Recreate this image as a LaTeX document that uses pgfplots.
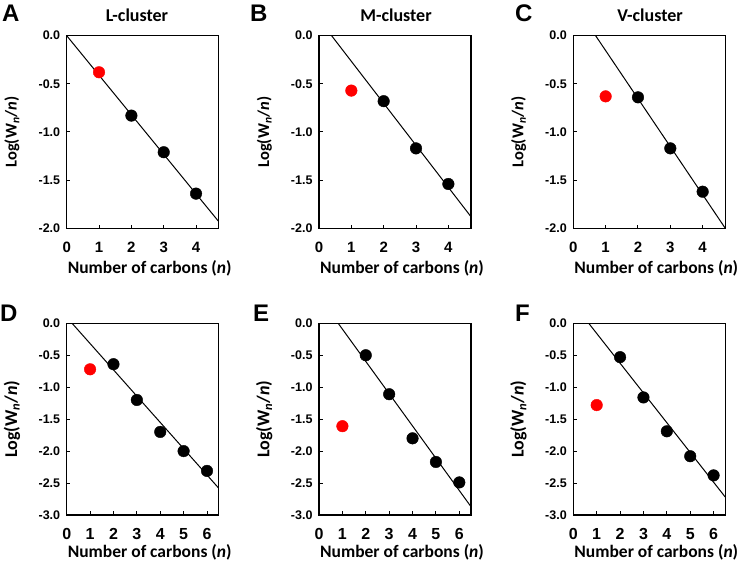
\documentclass[border=0pt]{standalone}
\usepackage{fontspec}
\setmainfont{Carlito}
\newfontfamily\arialb{Liberation Sans}[BoldFont={Liberation Sans Bold}]
\usepackage{pgfplots}
\pgfplotsset{compat=1.18}
\definecolor{dotred}{RGB}{255,0,0}
\pgfplotsset{
  panel/.style={
    scale only axis, anchor=south west,
    width=152pt,
    xmin=0, ymax=0,
    axis line style={line width=1.3pt},
    tick align=inside, major tick length=3.5pt,
    tick style={line width=1pt, black},
    xtick pos=bottom, ytick pos=left,
    /pgf/number format/assume math mode=true,
    yticklabel style={/pgf/number format/fixed, /pgf/number format/fixed zerofill, /pgf/number format/precision=1,
      font=\arialb\bfseries\fontsize{12.5}{12.5}\selectfont, anchor=east, xshift=-3pt},
    xlabel={Number of carbons (\textit{n})},
    ylabel={Log(W\textsubscript{\textit{n}}/\textit{n})},
    clip=true,
  },
  top/.style={panel, height=192.6pt, xmax=4.7, ymin=-2, xtick={0,1,2,3,4}, ytick={0,-0.5,-1,-1.5,-2},
    xticklabel style={font=\arialb\bfseries\fontsize{15}{15}\selectfont, anchor=base, yshift=-24.5pt},
    xlabel style={at={(axis description cs:0.5,0)}, anchor=base, yshift=-45pt, xshift=7pt, font=\bfseries\fontsize{17.5}{17.5}\selectfont},
    ylabel style={at={(axis description cs:-0.36,0.5)}, anchor=center, font=\bfseries\fontsize{16.5}{16.5}\selectfont},
  },
  bot/.style={panel, height=191.7pt, xmax=6.5, ymin=-3, xtick={0,1,2,3,4,5,6}, ytick={0,-0.5,-1,-1.5,-2,-2.5,-3},
    xticklabel style={font=\arialb\bfseries\fontsize{16}{16}\selectfont, anchor=base, yshift=-25pt},
    xlabel style={at={(axis description cs:0.5,0)}, anchor=base, yshift=-43pt, xshift=7pt, font=\bfseries\fontsize{17.5}{17.5}\selectfont},
    ylabel style={at={(axis description cs:-0.36,0.5)}, anchor=center, font=\bfseries\fontsize{18}{18}\selectfont},
  },
  fitline/.style={black, line width=1pt, no markers},
  blk/.style={only marks, mark=*, mark size=5.8pt, mark options={fill=black, draw=black}},
  red/.style={only marks, mark=*, mark size=5.8pt, mark options={fill=dotred, draw=dotred}},
}
\newcommand{\panellabel}[3]{\node[anchor=base west, inner sep=0pt, font=\arialb\bfseries\fontsize{24}{24}\selectfont] at (#1pt,#2pt) {#3};}
\newcommand{\paneltitle}[3]{\node[anchor=base, inner sep=0pt, font=\bfseries\fontsize{18}{18}\selectfont] at (#1pt,#2pt) {#3};}
\begin{document}
\begin{tikzpicture}[x=1pt,y=1pt]
\useasboundingbox (0,0) rectangle (742,564);
% ---------- A ----------
\begin{axis}[top, at={(66.7pt,335.7pt)}]
\addplot[fitline] coordinates {(0,0) (4.7,-1.93)};
\addplot[red] coordinates {(1,-0.38)};
\addplot[blk] coordinates {(2,-0.83) (3,-1.21) (4,-1.64)};
\end{axis}
% ---------- B ----------
\begin{axis}[top, at={(319pt,335.7pt)}]
\addplot[fitline] coordinates {(0.39,0) (4.7,-1.88)};
\addplot[red] coordinates {(1,-0.57)};
\addplot[blk] coordinates {(2,-0.68) (3,-1.17) (4,-1.54)};
\end{axis}
% ---------- C ----------
\begin{axis}[top, at={(573.3pt,335.7pt)}]
\addplot[fitline] coordinates {(0.69,0) (4.7,-2.0)};
\addplot[red] coordinates {(1,-0.63)};
\addplot[blk] coordinates {(2,-0.64) (3,-1.17) (4,-1.62)};
\end{axis}
% ---------- D ----------
\begin{axis}[bot, at={(66.7pt,49pt)}]
\addplot[fitline] coordinates {(0.23,0) (6.5,-2.58)};
\addplot[red] coordinates {(1,-0.72)};
\addplot[blk] coordinates {(2,-0.64) (3,-1.20) (4,-1.70) (5,-2.00) (6,-2.31)};
\end{axis}
% ---------- E ----------
\begin{axis}[bot, at={(319pt,49pt)}]
\addplot[fitline] coordinates {(0.82,0) (6.5,-2.87)};
\addplot[red] coordinates {(1,-1.61)};
\addplot[blk] coordinates {(2,-0.50) (3,-1.11) (4,-1.80) (5,-2.17) (6,-2.49)};
\end{axis}
% ---------- F ----------
\begin{axis}[bot, at={(573.3pt,49pt)}]
\addplot[fitline] coordinates {(0.66,0) (6.5,-2.72)};
\addplot[red] coordinates {(1,-1.28)};
\addplot[blk] coordinates {(2,-0.53) (3,-1.16) (4,-1.69) (5,-2.08) (6,-2.38)};
\end{axis}
% labels
\panellabel{2}{542}{A}
\panellabel{250}{542}{B}
\panellabel{515}{542}{C}
\panellabel{0}{242}{D}
\panellabel{253}{242}{E}
\panellabel{515}{242}{F}
\paneltitle{137}{542}{L-cluster}
\paneltitle{396}{542}{M-cluster}
\paneltitle{650}{542}{V-cluster}
\end{tikzpicture}
\end{document}
